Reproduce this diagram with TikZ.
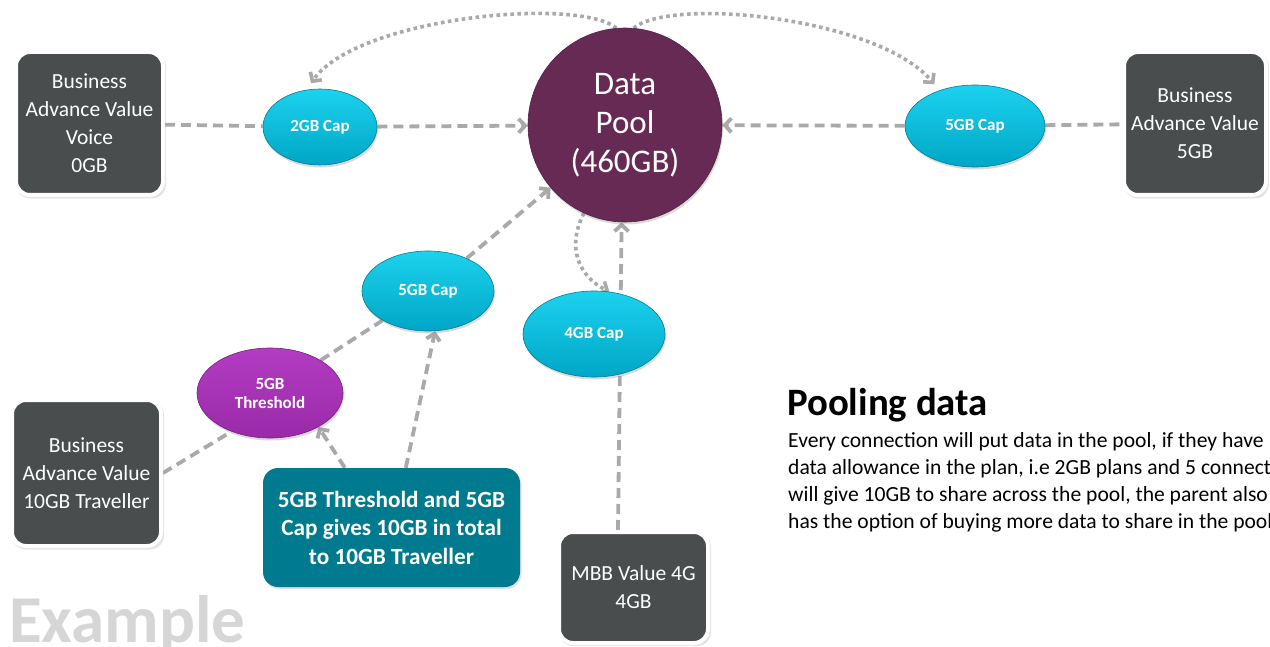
\documentclass[tikz,border=0pt]{standalone}
\usepackage{fontspec}
\setmainfont{Carlito}
\usetikzlibrary{arrows.meta,shapes.geometric,shadows,backgrounds}
\definecolor{boxgray}{HTML}{4A4D4E}
\definecolor{poolc}{HTML}{662A55}
\definecolor{cyanTop}{HTML}{1CD2EE}
\definecolor{cyanBot}{HTML}{00A6C6}
\definecolor{thrTop}{HTML}{B33CC2}
\definecolor{thrBot}{HTML}{9A2AA8}
\definecolor{tealc}{HTML}{007A8E}
\definecolor{edgegray}{HTML}{A9A9A9}
\definecolor{exgray}{HTML}{D6D6D6}
\begin{document}
\begin{tikzpicture}[x=1pt,y=-1pt,
  darkbox/.style={rectangle, rounded corners=14pt, fill=boxgray, draw=white, line width=4pt,
    text=white, align=center, inner sep=0pt, font=\fontsize{21.5}{28}\selectfont,
    drop shadow={opacity=0.22, shadow scale=1.02, shadow xshift=1.5pt, shadow yshift=-2pt}},
  capell/.style={ellipse, top color=cyanTop, bottom color=cyanBot, draw=cyanBot!75!black, line width=0.6pt,
    text=white, align=center, inner sep=0pt, font=\bfseries\fontsize{17}{19}\selectfont,
    drop shadow={opacity=0.3, shadow xshift=1pt, shadow yshift=-2.5pt}},
  dashln/.style={draw=edgegray, line width=3.8pt, dash pattern=on 10pt off 6pt},
  dotln/.style={draw=edgegray, line width=3.6pt, dash pattern=on 3.6pt off 3.4pt},
  arr/.style={-{Straight Barb[length=6.5pt,width=14pt]}},
  bodytxt/.style={anchor=base west, inner sep=0pt, font=\fontsize{21.6}{27}\selectfont}
]
\useasboundingbox (0,0) rectangle (1270,647);
\clip (0,0) rectangle (1270,647);

% nodes
\node[darkbox, minimum width=147pt, minimum height=143pt] (b1) at (89.5,123.5) {Business\\Advance Value\\Voice\\0GB};
\node[darkbox, minimum width=142pt, minimum height=143pt] (b2) at (1195,123.5) {Business\\Advance Value\\5GB};
\node[darkbox, minimum width=149pt, minimum height=146pt] (b3) at (86.5,473) {Business\\Advance Value\\10GB Traveller};
\node[darkbox, minimum width=149pt, minimum height=111pt] (mbb) at (633.5,587.5) {MBB Value 4G\\4GB};
\node[rectangle, rounded corners=15pt, fill=tealc, text=white, align=center, inner sep=0pt,
  minimum width=257pt, minimum height=119pt, font=\bfseries\fontsize{23.2}{28.5}\selectfont,
  drop shadow={opacity=0.25, shadow xshift=1.5pt, shadow yshift=-2pt}] (teal) at (391.5,527.5)
  {5GB Threshold and 5GB\\Cap gives 10GB in total\\to 10GB Traveller};

\node[circle, fill=poolc, draw=poolc!80!black, line width=0.6pt, minimum size=194pt, inner sep=0pt,
  text=white, align=center, font=\fontsize{33}{39}\selectfont,
  drop shadow={opacity=0.3, shadow xshift=1pt, shadow yshift=-2.5pt}] (pool) at (625,125) {Data\\Pool\\(460GB)};

\node[capell, minimum width=114pt, minimum height=76pt] (c2) at (320,127) {2GB Cap};
\node[capell, minimum width=140pt, minimum height=82pt] (c5r) at (975,126) {5GB Cap};
\node[capell, minimum width=132pt, minimum height=80pt] (c5m) at (428,291) {5GB Cap};
\node[capell, minimum width=142pt, minimum height=86pt] (c4) at (594,334) {4GB Cap};
\node[ellipse, top color=thrTop, bottom color=thrBot, draw=thrBot!75!black, line width=0.6pt,
  text=white, align=center, inner sep=0pt, font=\bfseries\fontsize{17}{19}\selectfont,
  minimum width=146pt, minimum height=90pt,
  drop shadow={opacity=0.3, shadow xshift=1pt, shadow yshift=-2.5pt}] (thr) at (270,393) {5GB\\Threshold};

% connectors
\begin{pgfonlayer}{background}
\draw[dashln] (b1) -- (c2);
\draw[dashln,arr] (c2) -- (pool);
\draw[dashln,arr] (c5r) -- (pool);
\draw[dashln] (c5r) -- (b2);
\draw[dashln,arr] (c5m) -- (pool);
\draw[dashln] (thr) -- (c5m);
\draw[dashln] (b3.east) -- (thr.225);
\draw[dashln,arr] ([xshift=82pt]teal.north west) -- (thr.-35);
\draw[dashln,arr] ([xshift=143pt]teal.north west) -- (c5m.-80);
\draw[dashln,arr] ([xshift=61pt]mbb.north west) -- (pool.268);
\draw[dotln,arr,shorten >=8pt] (pool.95) .. controls +(-40,-32) and +(50,-72) .. (c2.110);
\draw[dotln,arr,shorten >=8pt] (pool.85) .. controls +(40,-32) and +(-60,-72) .. (c5r.135);
\draw[dotln,arr] (pool.245) .. controls +(-18,35) and +(-30,-15) .. (c4.70);
\end{pgfonlayer}

% texts
\node[anchor=base west, inner sep=0pt, font=\bfseries\fontsize{38.8}{44}\selectfont] (ttl) at (787,415) {Pooling data};
\node[bodytxt] (p1) at (788,447) {Every connection will put data in the pool, if they have};
\node[bodytxt] (p2) at (788,474) {data allowance in the plan, i.e 2GB plans and 5 connections};
\node[bodytxt] (p3) at (788,501) {will give 10GB to share across the pool, the parent also};
\node[bodytxt] (p4) at (788,528) {has the option of buying more data to share in the pool};
\node[anchor=base west, inner sep=0pt, text=exgray, font=\bfseries\fontsize{67}{70}\selectfont] (ex) at (9,642) {Example};
\end{tikzpicture}
\end{document}
